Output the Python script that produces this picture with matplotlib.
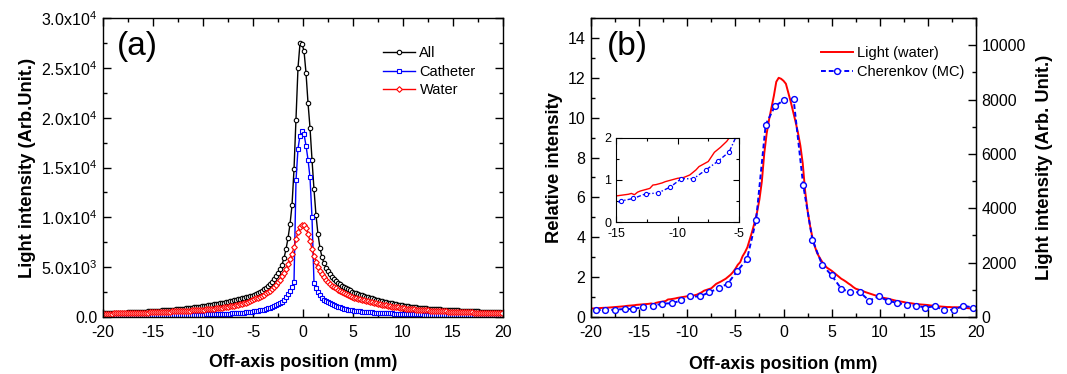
import numpy as np
import matplotlib
matplotlib.use("Agg")
import matplotlib.pyplot as plt
from matplotlib.ticker import MultipleLocator, FuncFormatter

plt.rcParams["font.family"] = ["Liberation Sans", "DejaVu Sans"]
plt.rcParams["mathtext.fontset"] = "custom"
plt.rcParams["mathtext.rm"] = "Liberation Sans"
plt.rcParams["mathtext.it"] = "Liberation Sans:italic"
plt.rcParams["mathtext.bf"] = "Liberation Sans:bold"
plt.rcParams["axes.unicode_minus"] = False

# ---------------- panel (a): light profiles, values in units of 1e3 ----------------
# sampling positions (mm): -19.9 ... 19.9, 0.2 mm pitch
pos_a = np.round(np.arange(-19.9, 19.91, 0.2), 2)

all_k = [
    # -19.9 .. -15.1
    0.40, 0.40, 0.41, 0.41, 0.42, 0.42, 0.43, 0.43, 0.44, 0.44, 0.45, 0.45, 0.46,
    0.47, 0.48, 0.49, 0.50, 0.51, 0.52, 0.53, 0.54, 0.55, 0.57, 0.58, 0.60,
    # -14.9 .. -10.1
    0.62, 0.63, 0.64, 0.65, 0.66, 0.68, 0.69, 0.70, 0.72, 0.73, 0.75, 0.77, 0.79,
    0.81, 0.83, 0.85, 0.87, 0.89, 0.92, 0.94, 0.97, 0.99, 1.02, 1.05, 1.08,
    # -9.9 .. -5.1
    1.11, 1.14, 1.17, 1.20, 1.23, 1.26, 1.30, 1.33, 1.37, 1.41, 1.45, 1.49, 1.53,
    1.58, 1.63, 1.68, 1.73, 1.78, 1.84, 1.89, 1.95, 1.98, 2.02, 2.07, 2.12,
    # -4.9 .. -2.1
    2.20, 2.30, 2.40, 2.50, 2.65, 2.80, 2.95, 3.10, 3.30, 3.55, 3.80, 4.10, 4.40,
    4.80, 5.25,
    # -1.9 .. -0.1
    5.90, 6.80, 7.90, 9.30, 11.2, 14.8, 19.8, 25.0, 27.45, 27.4,
    # 0.1 .. 1.9
    26.7, 24.5, 21.5, 19.0, 15.8, 12.8, 10.2, 8.30, 6.90, 6.00,
    # 2.1 .. 4.9
    5.40, 4.95, 4.60, 4.30, 4.00, 3.80, 3.60, 3.45, 3.30, 3.15, 3.00, 2.90, 2.78,
    2.66, 2.55,
    # 5.1 .. 9.9
    2.45, 2.38, 2.31, 2.24, 2.17, 2.10, 2.04, 1.98, 1.92, 1.86, 1.80, 1.74, 1.69,
    1.64, 1.59, 1.54, 1.49, 1.45, 1.40, 1.36, 1.32, 1.28, 1.24, 1.20, 1.16,
    # 10.1 .. 14.9
    1.12, 1.09, 1.06, 1.03, 1.01, 0.99, 0.97, 0.95, 0.93, 0.91, 0.89, 0.87, 0.85,
    0.83, 0.82, 0.80, 0.79, 0.77, 0.76, 0.75, 0.73, 0.72, 0.71, 0.70, 0.69,
    # 15.1 .. 19.9
    0.68, 0.67, 0.66, 0.65, 0.64, 0.63, 0.62, 0.61, 0.60, 0.59, 0.58, 0.57, 0.56,
    0.55, 0.54, 0.53, 0.52, 0.51, 0.50, 0.49, 0.48, 0.47, 0.46, 0.46, 0.45,
]

catheter_k = [
    # -19.9 .. -15.1
    0.12, 0.12, 0.12, 0.12, 0.12, 0.12, 0.13, 0.13, 0.13, 0.13, 0.13, 0.13, 0.14,
    0.14, 0.14, 0.14, 0.14, 0.14, 0.15, 0.15, 0.15, 0.15, 0.15, 0.16, 0.16,
    # -14.9 .. -10.1
    0.16, 0.16, 0.17, 0.17, 0.17, 0.17, 0.18, 0.18, 0.18, 0.18, 0.19, 0.19, 0.19,
    0.20, 0.20, 0.20, 0.21, 0.21, 0.22, 0.22, 0.23, 0.23, 0.24, 0.24, 0.25,
    # -9.9 .. -5.1
    0.25, 0.26, 0.26, 0.27, 0.27, 0.28, 0.29, 0.29, 0.30, 0.31, 0.32, 0.33, 0.34,
    0.35, 0.36, 0.37, 0.38, 0.40, 0.42, 0.43, 0.45, 0.47, 0.49, 0.51, 0.54,
    # -4.9 .. -2.1
    0.57, 0.60, 0.63, 0.67, 0.71, 0.75, 0.80, 0.86, 0.92, 0.99, 1.07, 1.16, 1.27,
    1.40, 1.55,
    # -1.9 .. -0.1
    1.75, 2.00, 2.30, 2.65, 3.00, 3.50, 13.7, 16.9, 18.2, 18.7,
    # 0.1 .. 1.9
    18.35, 17.2, 15.8, 14.0, 10.0, 3.40, 2.90, 2.50, 2.20, 1.95,
    # 2.1 .. 4.9
    1.75, 1.60, 1.47, 1.36, 1.26, 1.17, 1.09, 1.02, 0.96, 0.90, 0.85, 0.80, 0.75,
    0.71, 0.67,
    # 5.1 .. 9.9
    0.63, 0.61, 0.59, 0.57, 0.55, 0.53, 0.51, 0.50, 0.48, 0.47, 0.45, 0.44, 0.43,
    0.42, 0.41, 0.40, 0.39, 0.38, 0.37, 0.36, 0.35, 0.34, 0.33, 0.32, 0.31,
    # 10.1 .. 14.9
    0.30, 0.30, 0.29, 0.29, 0.28, 0.28, 0.27, 0.27, 0.26, 0.26, 0.25, 0.25, 0.25,
    0.24, 0.24, 0.24, 0.23, 0.23, 0.23, 0.22, 0.22, 0.22, 0.21, 0.21, 0.21,
    # 15.1 .. 19.9
    0.20, 0.20, 0.20, 0.20, 0.19, 0.19, 0.19, 0.19, 0.18, 0.18, 0.18, 0.18, 0.17,
    0.17, 0.17, 0.17, 0.17, 0.16, 0.16, 0.16, 0.16, 0.16, 0.15, 0.15, 0.15,
]

water_k = [
    # -19.9 .. -15.1
    0.34, 0.34, 0.35, 0.35, 0.35, 0.36, 0.36, 0.37, 0.37, 0.38, 0.38, 0.39, 0.39,
    0.40, 0.40, 0.41, 0.41, 0.42, 0.43, 0.43, 0.44, 0.45, 0.45, 0.46, 0.47,
    # -14.9 .. -10.1
    0.48, 0.49, 0.49, 0.50, 0.51, 0.52, 0.53, 0.54, 0.55, 0.56, 0.57, 0.58, 0.59,
    0.60, 0.61, 0.62, 0.63, 0.64, 0.65, 0.66, 0.67, 0.69, 0.70, 0.72, 0.74,
    # -9.9 .. -5.1
    0.75, 0.77, 0.79, 0.81, 0.83, 0.85, 0.87, 0.89, 0.92, 0.95, 0.98, 1.01, 1.04,
    1.07, 1.11, 1.15, 1.19, 1.23, 1.28, 1.33, 1.38, 1.44, 1.51, 1.58, 1.66,
    # -4.9 .. -2.1
    1.78, 1.86, 1.94, 2.03, 2.13, 2.24, 2.36, 2.50, 2.65, 2.82, 3.00, 3.22, 3.47,
    3.75, 4.10,
    # -1.9 .. -0.1
    4.45, 4.85, 5.30, 5.80, 6.35, 7.00, 7.80, 8.55, 9.05, 9.25,
    # 0.1 .. 1.9
    9.20, 8.90, 8.35, 7.60, 6.85, 6.15, 5.55, 5.05, 4.65, 4.30,
    # 2.1 .. 4.9
    4.00, 3.75, 3.52, 3.32, 3.15, 3.00, 2.86, 2.73, 2.61, 2.50, 2.40, 2.30, 2.20,
    2.11, 2.02,
    # 5.1 .. 9.9
    1.95, 1.89, 1.83, 1.77, 1.71, 1.66, 1.61, 1.56, 1.51, 1.46, 1.41, 1.37, 1.33,
    1.29, 1.25, 1.21, 1.17, 1.13, 1.09, 1.05, 1.02, 0.99, 0.96, 0.93, 0.90,
    # 10.1 .. 14.9
    0.87, 0.85, 0.83, 0.81, 0.79, 0.77, 0.75, 0.73, 0.72, 0.70, 0.69, 0.67, 0.66,
    0.65, 0.63, 0.62, 0.61, 0.60, 0.59, 0.58, 0.57, 0.56, 0.55, 0.54, 0.53,
    # 15.1 .. 19.9
    0.52, 0.51, 0.51, 0.50, 0.49, 0.49, 0.48, 0.47, 0.47, 0.46, 0.45, 0.45, 0.44,
    0.44, 0.43, 0.43, 0.42, 0.42, 0.41, 0.41, 0.40, 0.40, 0.39, 0.39, 0.38,
]

# ---------------- panel (b): measured light vs. simulated Cherenkov ----------------
pos_light = np.arange(-20, 20.001, 0.25)
light_rel = [
    0.42, 0.43, 0.43, 0.44, 0.45, 0.46, 0.46, 0.47, 0.48, 0.49, 0.50, 0.51, 0.52,
    0.53, 0.54, 0.56, 0.57, 0.58, 0.59, 0.61, 0.62, 0.63, 0.64, 0.65, 0.66, 0.68,
    0.65, 0.71, 0.74, 0.76, 0.78, 0.80, 0.88, 0.89, 0.91, 0.93, 0.96, 0.98, 1.00,
    1.02, 1.04, 1.05, 1.06, 1.09, 1.12, 1.18, 1.24, 1.32, 1.36, 1.40, 1.44, 1.55,
    1.66, 1.72, 1.78, 1.85, 1.92, 2.02, 2.12, 2.25, 2.42, 2.62, 2.75, 3.05, 3.25,
    3.50, 3.90, 4.30, 4.75, 5.25, 5.90, 6.80, 8.20, 9.20, 9.90, 10.5, 11.1, 11.8,
    12.0, 11.95, 11.85, 11.7, 11.25, 10.8, 10.3, 9.80, 9.25, 8.60, 7.70, 6.30, 5.35,
    4.60, 4.00, 3.55, 3.20, 2.98, 2.78, 2.62, 2.48, 2.40, 2.32, 2.22, 2.12, 2.02,
    1.92, 1.85, 1.77, 1.68, 1.60, 1.50, 1.42, 1.38, 1.34, 1.30, 1.25, 1.21, 1.17,
    1.13, 1.09, 1.05, 1.01, 0.98, 0.95, 0.93, 0.90, 0.87, 0.84, 0.81, 0.79, 0.77,
    0.75, 0.72, 0.70, 0.69, 0.67, 0.65, 0.64, 0.63, 0.62, 0.61, 0.60, 0.58, 0.57,
    0.55, 0.54, 0.53, 0.52, 0.51, 0.50, 0.50, 0.49, 0.49, 0.49, 0.48, 0.47, 0.46,
    0.45, 0.44, 0.42, 0.40, 0.38,
]

pos_mc = [-19.5, -18.5, -17.5, -16.5, -15.6, -14.6, -13.6, -12.6, -11.6, -10.6,
          -9.7, -8.7, -7.7, -6.7, -5.8, -4.8, -3.8, -2.85, -1.85, -0.9,
          0.1, 1.05, 2.05, 3.0, 4.0, 5.0, 6.0, 6.95, 7.95, 8.9,
          9.9, 10.85, 11.8, 12.8, 13.8, 14.75, 15.75, 16.7, 17.7, 18.7, 19.7]
cherenkov_rel = [0.37, 0.33, 0.37, 0.40, 0.40, 0.50, 0.56, 0.67, 0.69, 0.83,
                 1.03, 1.03, 1.24, 1.45, 1.67, 2.31, 2.89, 4.85, 9.65, 10.57,
                 10.9, 10.92, 6.60, 3.88, 2.63, 2.09, 1.42, 1.24, 1.24, 0.82,
                 1.04, 0.80, 0.72, 0.60, 0.57, 0.47, 0.54, 0.33, 0.37, 0.57, 0.47]

series_a = [("All", all_k, "black", "o"),
            ("Catheter", catheter_k, "#0000ff", "s"),
            ("Water", water_k, "#ff0000", "D")]

W, H = 1067, 374
fig = plt.figure(figsize=(W / 100, H / 100), dpi=100)

TICK_FS = 11.5
LEG_FS = 10.5


def frac(x0, y0, x1, y1):
    return [x0 / W, 1 - y1 / H, (x1 - x0) / W, (y1 - y0) / H]


def style_ticks(ax, right=True):
    ax.tick_params(which="both", direction="in", top=True, right=right,
                   width=1.0, labelsize=TICK_FS)
    ax.tick_params(which="major", length=6)
    ax.tick_params(which="minor", length=3)
    ax.tick_params(axis="x", pad=6)
    ax.tick_params(axis="y", pad=4)
    for s in ax.spines.values():
        s.set_linewidth(1.0)


def add_legend(ax, x_anchor):
    ax.legend(loc="upper left", bbox_to_anchor=(x_anchor, 0.905), frameon=False,
              fontsize=LEG_FS, handlelength=2.2, handletextpad=0.3,
              labelspacing=0.3, borderpad=0.0, borderaxespad=0.0)


# ---- (a)
ax1 = fig.add_axes(frac(103, 18, 503, 317))
for name, vals, col, mk in series_a:
    ms = 3.2 if mk != "D" else 2.9
    ax1.plot(pos_a, np.asarray(vals) * 1e3, color=col, lw=1.0, marker=mk,
             ms=ms, mfc="white", mec=col, mew=0.8, label=name)
ax1.set_xlim(-20, 20)
ax1.set_ylim(0, 30000)
ax1.xaxis.set_major_locator(MultipleLocator(5))
ax1.xaxis.set_minor_locator(MultipleLocator(2.5))
ax1.yaxis.set_major_locator(MultipleLocator(5000))
ax1.yaxis.set_minor_locator(MultipleLocator(2500))


def sci_fmt(v, pos):
    if v <= 0:
        return "0.0"
    e = int(np.floor(np.log10(v)))
    return "%.1fx10$\\mathregular{^{%d}}$" % (v / 10 ** e, e)


ax1.yaxis.set_major_formatter(FuncFormatter(sci_fmt))
style_ticks(ax1)
ax1.set_xlabel("Off-axis position (mm)", fontsize=12.8, fontweight="bold", labelpad=10)
ax1.set_ylabel("Light intensity (Arb.Unit.)", fontsize=13.2, fontweight="bold",
               labelpad=4)
ax1.text(0.035, 0.955, "(a)", transform=ax1.transAxes, fontsize=24, va="top", ha="left")
add_legend(ax1, 0.70)

# ---- (b)
ax2 = fig.add_axes(frac(591, 18, 976, 317))
ax2.plot(pos_light, light_rel, color="#ff0000", lw=1.4, label="Light (water)")
ax2.plot(pos_mc, cherenkov_rel, color="#0000ff", lw=1.4, ls=(0, (2.5, 1.5)),
         marker="o", ms=4.2, mfc="white", mec="#0000ff", mew=1.0,
         label="Cherenkov (MC)")
ax2.set_xlim(-20, 20)
ax2.set_ylim(0, 15)
ax2.xaxis.set_major_locator(MultipleLocator(5))
ax2.xaxis.set_minor_locator(MultipleLocator(2.5))
ax2.yaxis.set_major_locator(MultipleLocator(2))
ax2.yaxis.set_minor_locator(MultipleLocator(1))
style_ticks(ax2, right=False)
ax2.set_xlabel("Off-axis position (mm)", fontsize=12.8, fontweight="bold", labelpad=11.5)
ax2.set_ylabel("Relative intensity", fontsize=13.2, fontweight="bold", labelpad=3)
ax2.text(0.04, 0.955, "(b)", transform=ax2.transAxes, fontsize=24, va="top", ha="left")
add_legend(ax2, 0.597)

ax2r = ax2.twinx()
ax2r.set_ylim(0, 11000)
ax2r.yaxis.set_major_locator(MultipleLocator(2000))
ax2r.yaxis.set_minor_locator(MultipleLocator(1000))
ax2r.tick_params(which="both", direction="in", width=1.0, labelsize=TICK_FS, pad=4)
ax2r.tick_params(which="major", length=6)
ax2r.tick_params(which="minor", length=3)
ax2r.set_ylabel("Light intensity (Arb. Unit.)", fontsize=13.2, fontweight="bold",
                labelpad=7)

# ---- inset of the left tail
axi = fig.add_axes(frac(616, 138, 739, 222))
axi.plot(pos_light, light_rel, color="#ff0000", lw=1.0)
axi.plot(pos_mc, cherenkov_rel, color="#0000ff", lw=1.0, ls=(0, (3, 1.5, 1, 1.5)),
         marker="o", ms=3.0, mfc="white", mec="#0000ff", mew=0.8)
axi.set_xlim(-15, -5)
axi.set_ylim(0, 2)
axi.xaxis.set_major_locator(MultipleLocator(5))
axi.xaxis.set_minor_locator(MultipleLocator(2.5))
axi.yaxis.set_major_locator(MultipleLocator(1))
axi.yaxis.set_minor_locator(MultipleLocator(0.5))
axi.tick_params(which="both", direction="in", top=True, right=True, width=0.8,
                labelsize=9)
axi.tick_params(which="major", length=4)
axi.tick_params(which="minor", length=2)
axi.tick_params(axis="x", pad=4.0)
axi.tick_params(axis="y", pad=3.5)
for s in axi.spines.values():
    s.set_linewidth(0.8)

fig.savefig("out.png", dpi=100)
